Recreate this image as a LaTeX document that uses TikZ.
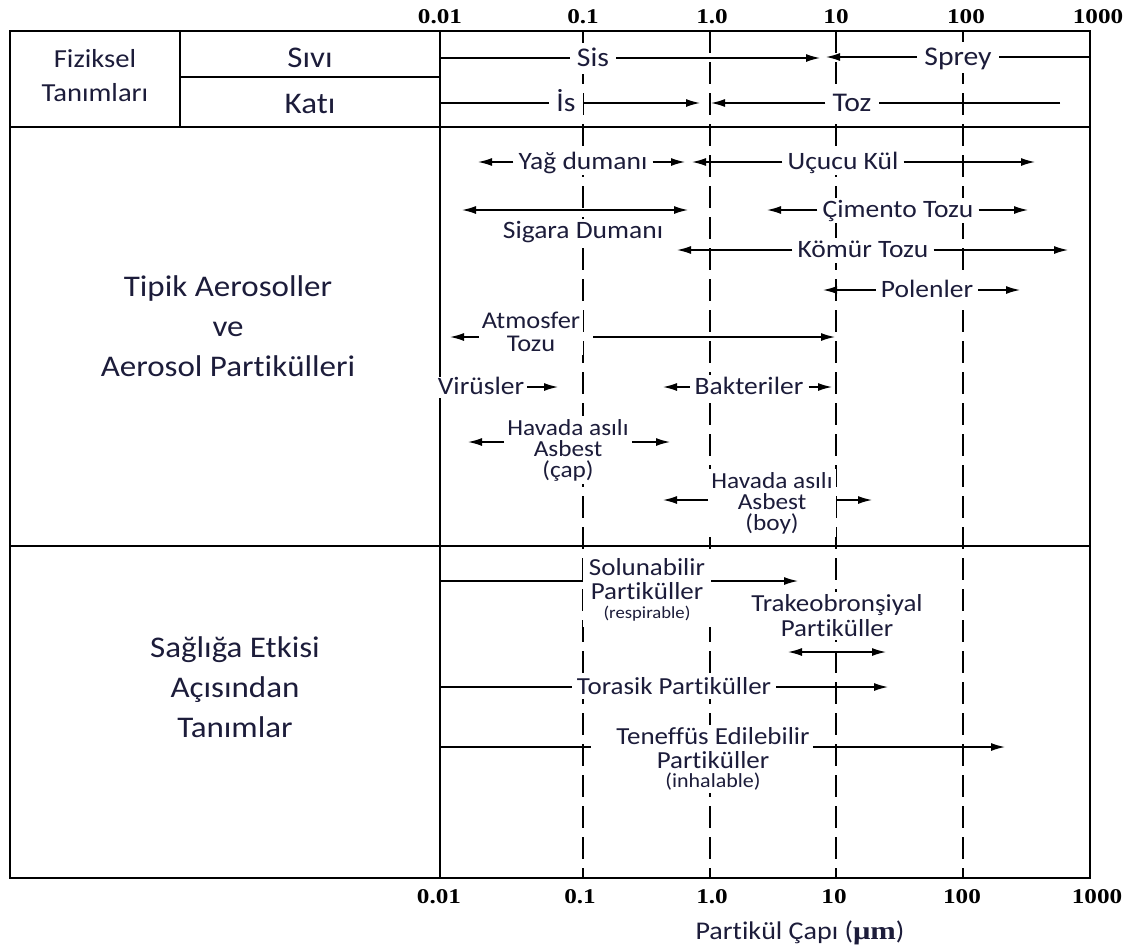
\documentclass[tikz,border=0pt]{standalone}
\usepackage{fontspec}
\setmainfont{Carlito}[FakeStretch=1.1,Ligatures={NoCommon,NoContextual}]
\newfontfamily\axisfont{Liberation Serif}[FakeStretch=1.2]
\usetikzlibrary{arrows.meta}
\definecolor{txt}{RGB}{28,28,58}
\begin{document}
\begin{tikzpicture}[x=1pt,y=-1pt,
  boxline/.style={line width=2.5pt, line cap=rect},
  gridline/.style={line width=2.8pt, dash pattern=on 22pt off 9pt},
  arr/.style={line width=1.4pt,-{Latex[length=14pt,width=8pt]}},
  darr/.style={line width=1.4pt,{Latex[length=14pt,width=8pt]}-{Latex[length=14pt,width=8pt]}},
  plain/.style={line width=1.4pt},
  lbl/.style={text=txt, fill=white, inner sep=5pt, text height=15pt, text depth=0pt, font=\fontsize{25}{26}\selectfont},
  hdr/.style={lbl, inner sep=7pt, text height=17pt, font=\fontsize{27}{28}\selectfont},
  hlbl/.style={lbl, text height=14.5pt, font=\fontsize{24.5}{25}\selectfont},
  multi/.style={text=txt, fill=white, align=center, inner sep=3pt, font=\fontsize{23}{21}\selectfont},
  bigtitle/.style={text=txt, align=center, inner sep=0pt, font=\fontsize{30}{40}\selectfont},
  axis/.style={inner sep=0pt, font=\axisfont\bfseries\fontsize{21}{22}\selectfont}
]
\useasboundingbox (0,0) rectangle (1126,951);
% frame
\draw[boxline] (10,31) rectangle (1090,878);
\draw[boxline] (180,31) -- (180,127);
\draw[boxline] (180,77) -- (440,77);
\draw[boxline] (10,127) -- (1090,127);
\draw[boxline] (10,546) -- (1090,546);
\draw[boxline] (440,31) -- (440,878);
\foreach \x in {583,710,836,963} \draw[gridline] (\x,31) -- (\x,878);

% axis labels
\node[axis] (t1) at (440,17) {0.01};
\node[axis] (t2) at (583,17) {0.1};
\node[axis] (t3) at (712,17) {1.0};
\node[axis] (t4) at (836,17) {10};
\node[axis] (t5) at (966,17) {100};
\node[axis] (t6) at (1098,17) {1000};
\node[axis] (b1) at (439,897) {0.01};
\node[axis] (b2) at (580,897) {0.1};
\node[axis] (b3) at (712,897) {1.0};
\node[axis] (b4) at (834,897) {10};
\node[axis] (b5) at (962,897) {100};
\node[axis] (b6) at (1097,897) {1000};
\node[text=txt, font=\fontsize{25.5}{26}\selectfont] (xlab) at (800,933) {Partikül Çapı ({\axisfont\bfseries μm})};

% header
\node[text=txt, align=center, font=\fontsize{26}{34}\selectfont] (fiz) at (95,76) {Fiziksel\\Tanımları};
\node[text=txt, font=\fontsize{30}{31}\selectfont] (siv) at (310,58) {Sıvı};
\node[text=txt, font=\fontsize{30}{31}\selectfont] (kat) at (310,104) {Katı};

\node[hdr] (sis) at (593,58) {Sis};
\coordinate (sisL) at (440,58);
\coordinate (sisR) at (820,58);
\draw[plain] (sisL) -- (sis);
\draw[arr] (sis) -- (sisR);
\node[hdr] (spr) at (958,57) {Sprey};
\coordinate (sprL) at (826,57);
\coordinate (sprR) at (1090,57);
\draw[plain] (sprR) -- (spr);
\draw[arr] (spr) -- (sprL);
\node[hdr] (is) at (566,103) {İs};
\coordinate (isL) at (440,103);
\coordinate (isR) at (700,103);
\draw[plain] (isL) -- (is);
\draw[arr] (is) -- (isR);
\node[hdr] (toz) at (852,103) {Toz};
\coordinate (tozL) at (711,103);
\coordinate (tozR) at (1060,103);
\draw[plain] (tozR) -- (toz);
\draw[arr] (toz) -- (tozL);

% titles
\node[bigtitle] (tip) at (228,326) {Tipik Aerosoller\\ve\\Aerosol Partikülleri};
\node[bigtitle] (sag) at (235,687) {Sağlığa Etkisi\\Açısından\\Tanımlar};

% typical aerosols
\node[lbl] (yag) at (583,162) {Yağ dumanı};
\coordinate (yagL) at (478,162);
\coordinate (yagR) at (685,162);
\draw[arr] (yag) -- (yagL);
\draw[arr] (yag) -- (yagR);

\node[lbl] (ucu) at (843,162) {Uçucu Kül};
\coordinate (ucuL) at (692,162);
\coordinate (ucuR) at (1035,162);
\draw[arr] (ucu) -- (ucuL);
\draw[arr] (ucu) -- (ucuR);

\coordinate (sigL) at (462,210);
\coordinate (sigR) at (688,210);
\draw[darr] (sigL) -- (sigR);
\node[lbl] (sig) at (583,231) {Sigara Dumanı};

\node[lbl] (cim) at (898,210) {Çimento Tozu};
\coordinate (cimL) at (767,210);
\coordinate (cimR) at (1028,210);
\draw[arr] (cim) -- (cimL);
\draw[arr] (cim) -- (cimR);

\node[lbl] (kom) at (863,250) {Kömür Tozu};
\coordinate (komL) at (677,250);
\coordinate (komR) at (1068,250);
\draw[arr] (kom) -- (komL);
\draw[arr] (kom) -- (komR);

\node[lbl] (pol) at (927,290) {Polenler};
\coordinate (polL) at (823,290);
\coordinate (polR) at (1020,290);
\draw[arr] (pol) -- (polL);
\draw[arr] (pol) -- (polR);

\node[multi, font=\fontsize{24}{23}\selectfont] (atm) at (531,332) {Atmosfer\\Tozu};
\coordinate (atmL) at (450,337);
\coordinate (atmR) at (835,337);
\draw[arr] (atm.west |- atmL) -- (atmL);
\draw[arr] ([xshift=10pt]atm.east |- atmR) -- (atmR);

\node[lbl, inner sep=3pt] (vir) at (481,387) {Virüsler};
\coordinate (virR) at (558,387);
\draw[arr] (vir) -- (virR);

\node[lbl] (bak) at (749,387) {Bakteriler};
\coordinate (bakL) at (663,387);
\coordinate (bakR) at (832,387);
\draw[arr] (bak) -- (bakL);
\draw[arr] (bak) -- (bakR);

\node[multi] (asc) at (568,450) {Havada asılı\\Asbest\\(çap)};
\coordinate (ascL) at (468,442);
\coordinate (ascR) at (670,442);
\draw[arr] (asc.west |- ascL) -- (ascL);
\draw[arr] (asc.east |- ascR) -- (ascR);

\node[multi] (asb) at (772,503) {Havada asılı\\Asbest\\(boy)};
\coordinate (asbL) at (663,500);
\coordinate (asbR) at (872,500);
\draw[arr] (asb.west |- asbL) -- (asbL);
\draw[arr] (asb.east |- asbR) -- (asbR);

% health
\node[multi, inner sep=6pt, font=\fontsize{24.5}{23.5}\selectfont] (sol) at (647,590) {Solunabilir\\Partiküller\\[-4pt]{\fontsize{17}{17}\selectfont (respirable)}};
\coordinate (solL) at (440,581);
\coordinate (solR) at (798,581);
\draw[plain] (solL) -- (sol.west |- solL);
\draw[arr] (sol.east |- solR) -- (solR);

\node[multi, font=\fontsize{24.5}{25}\selectfont] (tra) at (837,616) {Trakeobronşiyal\\Partiküller};
\coordinate (traL) at (788,652);
\coordinate (traR) at (886,652);
\draw[darr] (traL) -- (traR);

\node[hlbl] (tor) at (674,687) {Torasik Partiküller};
\coordinate (torL) at (440,687);
\coordinate (torR) at (888,687);
\draw[plain] (torL) -- (tor);
\draw[arr] (tor) -- (torR);

\node[multi, font=\fontsize{24.5}{23.5}\selectfont] (ten) at (713,759) {Teneffüs Edilebilir\\Partiküller\\[-4pt]{\fontsize{20}{20}\selectfont (inhalable)}};
\coordinate (tenL) at (440,747);
\coordinate (tenR) at (1005,747);
\draw[plain] (tenL) -- ([xshift=-22pt]ten.west |- tenL);
\draw[arr] (ten.east |- tenR) -- (tenR);
\end{tikzpicture}
\end{document}
